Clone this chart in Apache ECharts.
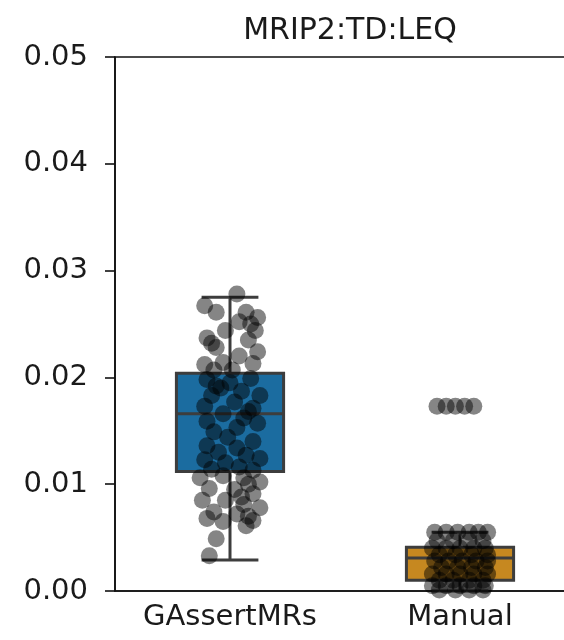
<!DOCTYPE html>
<html>
<head>
<meta charset="utf-8">
<script src="https://cdn.jsdelivr.net/npm/echarts@6/dist/echarts.min.js"></script>
<style>
  html, body { margin: 0; padding: 0; background: #fff; overflow: hidden; }
  #chart { width: 600px; height: 640px; }
</style>
</head>
<body>
<div id="chart"></div>
<script>
// categories and y ticks
const categories = ["GAssertMRs", "Manual"];
const yTicks = [0, 0.01, 0.02, 0.03, 0.04, 0.05];

// box stats: [whiskerLow, Q1, median, Q3, whiskerHigh]
const boxGAssert = [0.0029, 0.0112, 0.0166, 0.0204, 0.0275];
const boxManual = [0.0, 0.0010, 0.0031, 0.0041, 0.0055];

// strip points (value + horizontal jitter in category units)
const gassertValues = [
  0.0278, 0.0267, 0.0261, 0.0261, 0.0256, 0.0252, 0.0244, 0.0244, 0.0235, 0.0237,
  0.0228, 0.0224, 0.0220, 0.0214, 0.0212, 0.0213, 0.0207, 0.0207, 0.0250, 0.0232,
  0.0198, 0.0195, 0.0199, 0.0190, 0.0187, 0.0183, 0.0183, 0.0177, 0.0173, 0.0171,
  0.0166, 0.0162, 0.0159, 0.0157, 0.0153, 0.0149, 0.0144, 0.0140, 0.0136, 0.0134,
  0.0130, 0.0127, 0.0124, 0.0123, 0.0120, 0.0116, 0.0114, 0.0113, 0.0192, 0.0168,
  0.0106, 0.0108, 0.0106, 0.0102, 0.0096, 0.0095, 0.0091, 0.0085, 0.0085, 0.0081,
  0.0078, 0.0074, 0.0072, 0.0068, 0.0066, 0.0065, 0.0061, 0.0049, 0.0033, 0.0100,
  0.0088, 0.0070
];
const gassertJitter = [
  0.03, -0.11, -0.06, 0.07, 0.12, 0.04, -0.02, 0.11, 0.08, -0.10,
  -0.06, 0.12, 0.04, -0.03, -0.11, 0.10, -0.07, 0.01, 0.09, -0.08,
  -0.10, 0.00, 0.09, -0.04, 0.05, 0.13, -0.08, 0.02, -0.11, 0.10,
  -0.03, 0.06, -0.10, 0.12, 0.03, -0.07, -0.01, 0.10, -0.10, 0.03,
  -0.05, 0.07, 0.13, -0.11, -0.02, 0.04, -0.08, 0.10, -0.06, 0.08,
  -0.13, -0.03, 0.06, 0.13, -0.09, 0.02, 0.10, -0.12, -0.02, 0.06,
  0.13, -0.07, 0.03, -0.10, 0.10, -0.03, 0.07, -0.06, -0.09, 0.08,
  0.05, 0.08
];
const manualValues = [
  0.0173, 0.0173, 0.0173, 0.0173, 0.0173,
  0.0055, 0.0055, 0.0055, 0.0055, 0.0055, 0.0055,
  0.0047, 0.0047, 0.0047, 0.0047,
  0.0040, 0.0040, 0.0040, 0.0040, 0.0040,
  0.0034, 0.0034, 0.0034, 0.0034,
  0.0028, 0.0028, 0.0028, 0.0028, 0.0028,
  0.0022, 0.0022, 0.0022, 0.0022,
  0.0016, 0.0016, 0.0016, 0.0016, 0.0016,
  0.0010, 0.0010, 0.0010, 0.0010,
  0.0005, 0.0005, 0.0005, 0.0005, 0.0005,
  0.0001, 0.0001, 0.0001, 0.0001
];
const manualJitter = [
  -0.10, -0.06, -0.02, 0.02, 0.06,
  -0.11, -0.06, -0.01, 0.04, 0.08, 0.12,
  -0.10, -0.03, 0.04, 0.10,
  -0.12, -0.06, 0.00, 0.06, 0.11,
  -0.09, -0.02, 0.05, 0.12,
  -0.11, -0.05, 0.01, 0.07, 0.12,
  -0.08, -0.01, 0.05, 0.11,
  -0.12, -0.06, 0.00, 0.06, 0.12,
  -0.09, -0.03, 0.04, 0.10,
  -0.12, -0.06, 0.00, 0.06, 0.11,
  -0.09, -0.02, 0.04, 0.10
];

const boxColors = ["#1B6CA0", "#C68820"];
const edgeColor = "#3d3d3d";
const fontFamily = "DejaVu Sans";

const boxData = [boxGAssert, boxManual].map((b, i) => [i, ...b]);
const points = [];
gassertValues.forEach((v, k) => points.push([0 + gassertJitter[k], v]));
manualValues.forEach((v, k) => points.push([1 + manualJitter[k], v]));

const chart = echarts.init(document.getElementById("chart"), null, { renderer: "canvas" });

const option = {
  animation: false,
  backgroundColor: "#fff",
  title: {
    text: "MRIP2:TD:LEQ",
    left: 345,
    textAlign: "center",
    top: 11,
    textStyle: { fontFamily, fontSize: 30, fontWeight: "normal", color: "#1a1a1a" },
  },
  grid: {
    left: 115,
    top: 57,
    width: 460,
    height: 534,
    show: true,
    borderColor: "#111",
    borderWidth: 1.6,
    backgroundColor: "transparent",
  },
  xAxis: [
    {
      type: "category",
      data: categories,
      axisLine: { onZero: false, lineStyle: { color: "#111", width: 1.6 } },
      axisTick: { alignWithLabel: true, length: 10, lineStyle: { color: "#111", width: 1.6 } },
      axisLabel: { interval: 0, hideOverlap: false, fontFamily, fontSize: 29, color: "#1a1a1a", margin: 12 },
      splitLine: { show: false },
    },
    {
      type: "value",
      min: -0.5,
      max: 1.5,
      show: false,
    },
  ],
  yAxis: {
    type: "value",
    min: yTicks[0],
    max: yTicks[yTicks.length - 1],
    interval: 0.01,
    axisLine: { show: true, onZero: false, lineStyle: { color: "#111", width: 1.6 } },
    axisTick: { show: true, length: 10, lineStyle: { color: "#111", width: 1.6 } },
    axisLabel: {
      fontFamily,
      fontSize: 29,
      color: "#1a1a1a",
      margin: 27,
      formatter: (v) => v.toFixed(2),
    },
    splitLine: { show: false },
  },
  series: [
    {
      type: "custom",
      xAxisIndex: 0,
      data: boxData,
      encode: { x: 0, y: [1, 2, 3, 4, 5] },
      z: 2,
      renderItem: (params, api) => {
        const idx = api.value(0);
        const lo = api.coord([idx, api.value(1)]);
        const q1 = api.coord([idx, api.value(2)]);
        const med = api.coord([idx, api.value(3)]);
        const q3 = api.coord([idx, api.value(4)]);
        const hi = api.coord([idx, api.value(5)]);
        const cx = lo[0];
        const half = api.size([1, 0])[0] * 0.233;
        const capHalf = half * 0.53;
        const line = { stroke: edgeColor, lineWidth: 3 };
        return {
          type: "group",
          children: [
            { type: "line", shape: { x1: cx, y1: q3[1], x2: cx, y2: hi[1] }, style: line },
            { type: "line", shape: { x1: cx, y1: q1[1], x2: cx, y2: lo[1] }, style: line },
            { type: "line", shape: { x1: cx - capHalf, y1: hi[1], x2: cx + capHalf, y2: hi[1] }, style: line },
            { type: "line", shape: { x1: cx - capHalf, y1: lo[1], x2: cx + capHalf, y2: lo[1] }, style: line },
            {
              type: "rect",
              shape: { x: cx - half, y: q3[1], width: half * 2, height: q1[1] - q3[1] },
              style: { fill: boxColors[idx], stroke: edgeColor, lineWidth: 3 },
            },
            { type: "line", shape: { x1: cx - half, y1: med[1], x2: cx + half, y2: med[1] }, style: line },
          ],
        };
      },
    },
    {
      type: "scatter",
      xAxisIndex: 1,
      data: points,
      symbolSize: 17,
      z: 3,
      itemStyle: { color: "rgba(0,0,0,0.6)" },
    },
  ],
};

chart.setOption(option);
</script>
</body>
</html>
